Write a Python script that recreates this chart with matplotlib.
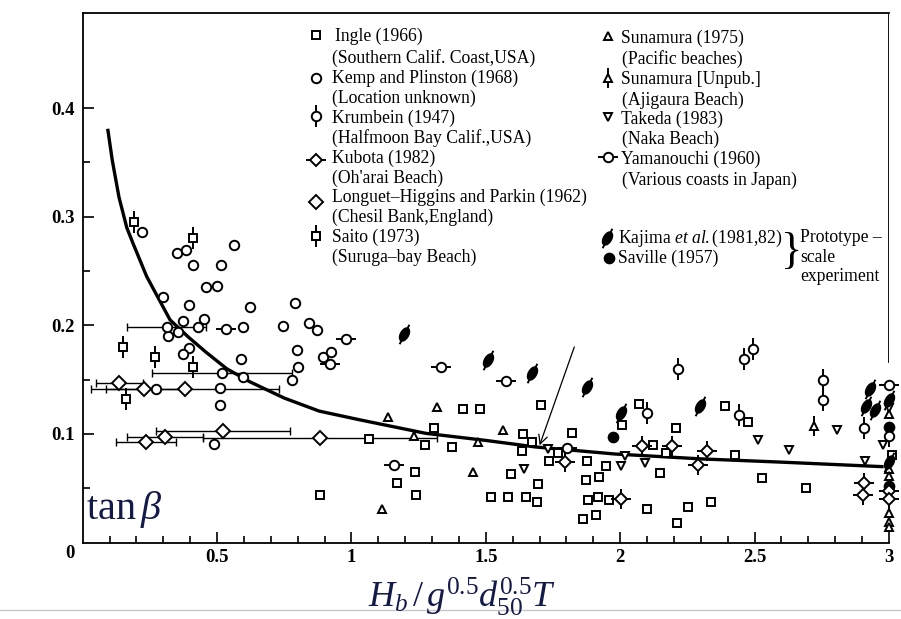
import numpy as np
import matplotlib
matplotlib.use('Agg')
import matplotlib.pyplot as plt
from matplotlib.path import Path
from matplotlib.lines import Line2D

plt.rcParams['font.family'] = ['Liberation Serif', 'DejaVu Serif']
plt.rcParams['mathtext.fontset'] = 'custom'
plt.rcParams['mathtext.rm'] = 'Liberation Serif'
plt.rcParams['mathtext.it'] = 'Liberation Serif:italic'
plt.rcParams['mathtext.bf'] = 'Liberation Serif:bold'

# ---------------- data ----------------
ingle_x = [0.883, 1.066, 1.308, 1.414, 1.478, 1.705, 1.639, 1.670, 1.819, 1.273, 1.373, 1.633,
           1.769, 1.736, 1.875, 1.947, 1.236, 1.170, 1.239, 1.592, 1.693, 1.518, 1.581, 1.648,
           1.689, 1.871, 1.922, 1.881, 1.918, 1.959, 1.862, 1.908, 2.098, 2.071, 2.005, 2.123,
           2.170, 2.148, 2.207, 2.389, 2.476, 2.427, 2.528, 2.693, 2.253, 2.337, 2.212, 3.01]
ingle_y = [0.044, 0.095, 0.105, 0.123, 0.123, 0.127, 0.100, 0.093, 0.101, 0.090, 0.088, 0.084,
           0.082, 0.075, 0.075, 0.070, 0.065, 0.055, 0.044, 0.063, 0.054, 0.042, 0.042, 0.042,
           0.037, 0.058, 0.060, 0.039, 0.042, 0.039, 0.022, 0.025, 0.031, 0.128, 0.108, 0.090,
           0.082, 0.064, 0.105, 0.126, 0.111, 0.081, 0.059, 0.050, 0.033, 0.037, 0.018, 0.081]

kemp_x = [0.219, 0.352, 0.383, 0.563, 0.409, 0.514, 0.458, 0.499, 0.300, 0.394, 0.621, 0.790,
          0.372, 0.450, 0.318, 0.356, 0.430, 0.595, 0.746, 0.843, 0.873, 0.397,
          0.3745, 0.589, 0.796, 0.802, 0.7775, 0.895, 0.924, 0.595, 0.273, 0.511, 0.511, 0.490]
kemp_y = [0.286, 0.267, 0.269, 0.274, 0.256, 0.256, 0.235, 0.236, 0.226, 0.219, 0.217, 0.221,
          0.204, 0.206, 0.190, 0.194, 0.198, 0.198, 0.199, 0.202, 0.196, 0.179,
          0.174, 0.169, 0.177, 0.162, 0.150, 0.171, 0.175, 0.152, 0.141, 0.142, 0.127, 0.091]
kemp_range_x = [0.3125, 0.518]
kemp_range_y = [0.198, 0.156]
kemp_range_err = [0.148, 0.26]

krumbein_x = [2.098, 2.2135, 2.443, 2.461, 2.4925, 2.755, 2.755, 2.907, 3.0]
krumbein_y = [0.119, 0.160, 0.117, 0.169, 0.178, 0.150, 0.131, 0.105, 0.098]

kubota_x = [1.794, 2.0015, 2.080, 2.191, 2.321, 2.290, 2.907, 2.902, 3.0, 3.0]
kubota_y = [0.074, 0.040, 0.089, 0.089, 0.084, 0.071, 0.0545, 0.044, 0.047, 0.040]

longuet_x = [0.136, 0.229, 0.381, 0.521, 0.306, 0.2355, 0.883]
longuet_y = [0.147, 0.141, 0.141, 0.103, 0.097, 0.093, 0.096]
longuet_xerr = [0.088, 0.143, 0.35, 0.25, 0.14, 0.11, 0.435]

saito_x = [0.192, 0.411, 0.151, 0.269, 0.409, 0.160]
saito_y = [0.295, 0.280, 0.180, 0.171, 0.162, 0.132]

sun75_x = [1.135, 1.317, 1.565, 1.234, 1.469, 1.453, 1.1135, 3.0, 3.0, 3.0, 3.0, 3.0, 3.0]
sun75_y = [0.116, 0.1245, 0.104, 0.098, 0.093, 0.065, 0.031, 0.118, 0.068, 0.061, 0.027, 0.019, 0.0146]

sunun_x = [2.721]
sunun_y = [0.107]

takeda_x = [1.730, 2.0175, 2.0015, 2.092, 1.642, 2.513, 2.629, 2.805, 2.910, 3.0, 2.979]
takeda_y = [0.086, 0.080, 0.070, 0.073, 0.068, 0.094, 0.085, 0.104, 0.075, 0.124, 0.090]

yama_x = [0.532, 0.920, 0.980, 1.159, 1.333, 1.574, 1.803, 3.0]
yama_y = [0.197, 0.164, 0.187, 0.071, 0.162, 0.149, 0.087, 0.145]

kajima_x = [1.195, 1.509, 1.670, 1.875, 2.0015, 2.2965, 2.929, 2.914, 2.948, 3.0, 3.0]
kajima_y = [0.192, 0.168, 0.156, 0.143, 0.119, 0.126, 0.141, 0.126, 0.122, 0.131, 0.074]

saville_x = [1.974, 3.0, 3.0]
saville_y = [0.097, 0.106, 0.052]

curve_x = [0.093, 0.11, 0.135, 0.164, 0.188, 0.238, 0.325, 0.394, 0.46, 0.536, 0.622, 0.75,
           0.88, 1.03, 1.277, 1.5, 1.684, 1.98, 2.3, 2.6, 2.98]
curve_y = [0.381, 0.352, 0.318, 0.290, 0.275, 0.245, 0.205, 0.189, 0.175, 0.160, 0.148, 0.133,
           0.121, 0.113, 0.1005, 0.094, 0.088, 0.0815, 0.077, 0.074, 0.0698]

arrow_from = (1.829, 0.180)
arrow_to = (1.700, 0.0895)

x_ticks = [0.5, 1, 1.5, 2, 2.5, 3]
x_ticklabels = ['0.5', '1', '1.5', '2', '2.5', '3']
y_ticks = [0.1, 0.2, 0.3, 0.4]
y_ticklabels = ['0.1', '0.2', '0.3', '0.4']

# ---------------- marker styles ----------------
INK = 'black'
MEW = 1.4
ang = np.deg2rad(60)
t = np.linspace(0, 2 * np.pi, 41)
ex, ey = np.cos(t), 0.55 * np.sin(t)
ell = np.column_stack([ex * np.cos(ang) - ey * np.sin(ang), ex * np.sin(ang) + ey * np.cos(ang)])
ELLIPSE = Path(ell, closed=True)
SLASH = Path([(-0.5, -1.0), (0.5, 1.0)], [Path.MOVETO, Path.LINETO])

STYLES = {
    'ingle':   [('s', 6.4, 'white')],
    'kemp':    [('o', 6.8, 'white')],
    'krumbein': [('|', 16, 'none'), ('o', 6.8, 'white')],
    'kubota':  [('_', 15, 'none'), ('|', 15, 'none'), ('D', 5.8, 'white')],
    'kubota_leg': [('_', 15, 'none'), ('D', 5.8, 'white')],
    'longuet': [('D', 6.8, 'white')],
    'saito':   [('|', 16, 'none'), ('s', 6.4, 'white')],
    'sun75':   [('^', 6.4, 'white')],
    'sunun':   [('|', 15, 'none'), ('^', 6.4, 'white')],
    'takeda':  [('v', 6.4, 'white')],
    'yama':    [('_', 15, 'none'), ('o', 6.8, 'white')],
    'kajima':  [(SLASH, 14, 'none'), (ELLIPSE, 9, INK)],
    'saville': [('o', 7.0, INK)],
}


def draw(target, xs, ys, kind, transform=None, z=4):
    for i, (m, ms, fc) in enumerate(STYLES[kind]):
        kw = dict(ls='none', marker=m, ms=ms, mfc=fc, mec=INK, mew=MEW,
                  clip_on=False, zorder=z + i * 0.1)
        if transform is not None:
            ln = Line2D(xs, ys, transform=transform, **kw)
            target.add_artist(ln)
        else:
            target.plot(xs, ys, **kw)


W, H = 901, 619
fig = plt.figure(figsize=(W / 100, H / 100), dpi=100)
ax_left, ax_right, ax_top, ax_bot = 82.7, 889.0, 13.0, 542.5
ax = fig.add_axes([ax_left / W, 1 - ax_bot / H, (ax_right - ax_left) / W, (ax_bot - ax_top) / H])
ax.set_xlim(0, 3)
ax.set_ylim(0, 0.4876)

for side in ['left', 'top', 'bottom']:
    ax.spines[side].set_linewidth(1.3)
ax.spines['right'].set_visible(False)
ax.axvline(3, ymin=0.166 / 0.4876, ymax=1, color=INK, lw=1.3, zorder=1)

ax.set_xticks(x_ticks)
ax.set_xticklabels(x_ticklabels)
ax.set_yticks(y_ticks)
ax.set_yticklabels(y_ticklabels)
ax.set_xticks(np.arange(0.1, 3.0, 0.1), minor=True)
ax.set_yticks(np.arange(0.05, 0.45, 0.1), minor=True)
ax.tick_params(which='both', direction='in', width=1.2, colors=INK)
ax.tick_params(which='major', length=8)
ax.tick_params(which='minor', length=5)
ax.tick_params(axis='x', which='major', pad=5)
ax.tick_params(axis='y', which='major', pad=6)
for lab in ax.get_xticklabels() + ax.get_yticklabels():
    lab.set_fontsize(13.5)
    lab.set_fontweight('bold')
fig.text(70 / W, 1 - 553 / H, '0', fontsize=13.5, fontweight='bold', ha='center', va='center')

# curve
ax.plot(curve_x, curve_y, color=INK, lw=2.4, solid_capstyle='butt', solid_joinstyle='round',
        zorder=2)

# error bars
ax.errorbar(longuet_x, longuet_y, xerr=longuet_xerr, fmt='none', ecolor=INK,
            elinewidth=1.0, capsize=3, capthick=1.0, zorder=3)
ax.errorbar(kemp_range_x, kemp_range_y, xerr=kemp_range_err, fmt='none', ecolor=INK,
            elinewidth=1.0, capsize=3, capthick=1.0, zorder=3)

draw(ax, ingle_x, ingle_y, 'ingle')
draw(ax, kemp_x, kemp_y, 'kemp')
draw(ax, kemp_range_x, kemp_range_y, 'kemp')
draw(ax, krumbein_x, krumbein_y, 'krumbein')
draw(ax, kubota_x, kubota_y, 'kubota')
draw(ax, longuet_x, longuet_y, 'longuet')
draw(ax, saito_x, saito_y, 'saito')
draw(ax, sun75_x, sun75_y, 'sun75')
draw(ax, sunun_x, sunun_y, 'sunun')
draw(ax, takeda_x, takeda_y, 'takeda')
draw(ax, yama_x, yama_y, 'yama')
draw(ax, kajima_x, kajima_y, 'kajima')
draw(ax, saville_x, saville_y, 'saville')

ax.annotate('', xy=arrow_to, xytext=arrow_from,
            arrowprops=dict(arrowstyle='->', lw=0.9, color=INK, shrinkA=0, shrinkB=0,
                            mutation_scale=16), zorder=5)

# ---------------- legend block ----------------
FS = 12.7


def ftxt(px, py, s, **kw):
    fig.text(px / W, 1 - py / H, s, fontsize=kw.pop('fontsize', FS), va='center', ha='left', **kw)


def fmark(px, py, kind):
    draw(fig, [px / W], [1 - py / H], kind, transform=fig.transFigure, z=6)


left_rows = [
    ('ingle', 335, 36, 'Ingle (1966)'), (None, 332, 58, '(Southern Calif. Coast,USA)'),
    ('kemp', 332, 78, 'Kemp and Plinston (1968)'), (None, 332, 98, '(Location unknown)'),
    ('krumbein', 332, 118, 'Krumbein (1947)'), (None, 332, 138, '(Halfmoon Bay Calif.,USA)'),
    ('kubota_leg', 332, 158, 'Kubota (1982)'), (None, 332, 178, "(Oh'arai Beach)"),
    ('longuet', 332, 197, 'Longuet\u2013Higgins and Parkin (1962)'), (None, 332, 217, '(Chesil Bank,England)'),
    ('saito', 332, 237, 'Saito (1973)'), (None, 332, 257, '(Suruga\u2013bay Beach)'),
]
left_marker_y = {'ingle': 35, 'kemp': 78, 'krumbein': 116, 'kubota_leg': 160,
                 'longuet': 202, 'saito': 236}
for kind, px, py, s in left_rows:
    ftxt(px, py, s)
    if kind:
        fmark(316, left_marker_y[kind], kind)

right_rows = [
    ('sun75', 621, 38, 'Sunamura (1975)'), (None, 622, 59, '(Pacific beaches)'),
    ('sunun', 621, 80, 'Sunamura [Unpub.]'), (None, 622, 100, '(Ajigaura Beach)'),
    ('takeda', 621, 119, 'Takeda (1983)'), (None, 622, 139, '(Naka Beach)'),
    ('yama', 621, 159, 'Yamanouchi (1960)'), (None, 622, 180, '(Various coasts in Japan)'),
]
for kind, px, py, s in right_rows:
    ftxt(px, py, s)
    if kind:
        fmark(608, py - 2, kind)

ftxt(618, 238, r'Kajima $\it{et\ al.}$(1981,82)')
fmark(607, 238, 'kajima')
ftxt(618, 258, 'Saville (1957)')
fmark(609, 258, 'saville')
fig.text(792 / W, 1 - 252 / H, '}', fontsize=32, va='center', ha='center', fontweight='light')
ftxt(800, 238, 'Prototype \u2013')
ftxt(800, 258, 'scale')
ftxt(800, 277, 'experiment')

# axis labels
NAVY = '#141a48'
fig.text(86 / W, 1 - 519 / H, r'$\mathrm{tan}\,\beta$', fontsize=29, color=NAVY,
         ha='left', va='baseline')
fig.text(462 / W, 1 - 597 / H, r'$H_b\,/\,g^{0.5}d_{50}^{0.5}T$', fontsize=26, color=NAVY,
         ha='center', va='center')

fig.add_artist(Line2D([0, 1], [1 - 610 / H, 1 - 610 / H], color='#c8c8c8', lw=1.0,
                      transform=fig.transFigure, zorder=0))

fig.savefig('out.png', dpi=100)
